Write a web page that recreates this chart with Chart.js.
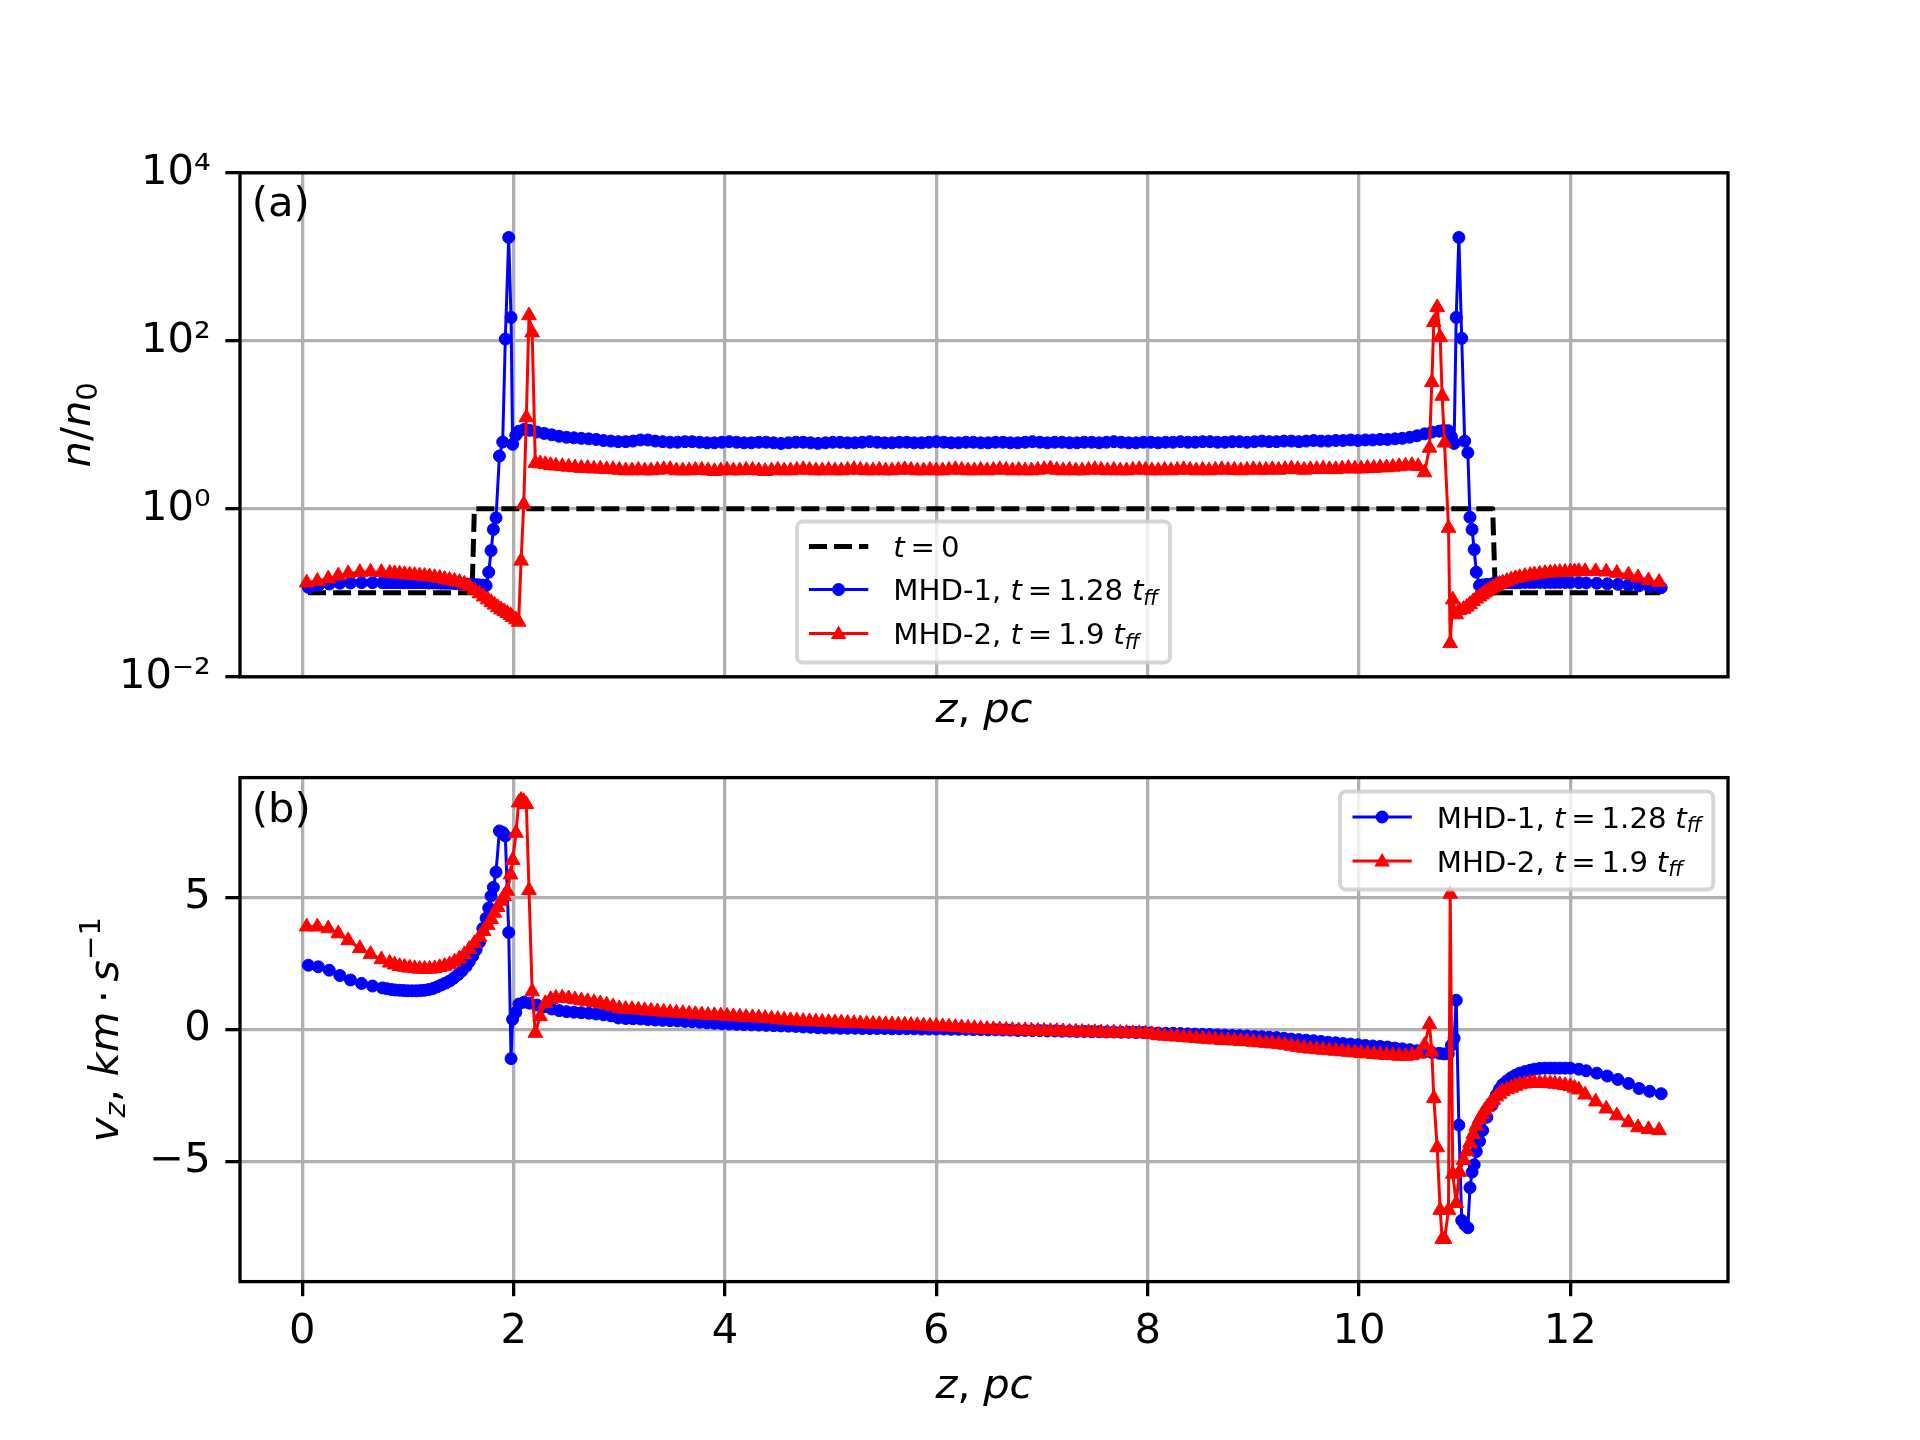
<!DOCTYPE html>
<html><head><meta charset="utf-8">
<script src="https://cdn.jsdelivr.net/npm/chart.js@4.4.1/dist/chart.umd.min.js"></script>
<style>
html,body{margin:0;padding:0;background:#fff;}
#wrap{position:relative;width:1920px;height:1440px;background:#fff;overflow:hidden;}
canvas{position:absolute;left:0;}
#c1{top:0;width:1920px;height:760px;}
#c2{top:700px;width:1920px;height:740px;}
</style></head><body>
<div id="wrap"><canvas id="c1" width="1920" height="760"></canvas><canvas id="c2" width="1920" height="740"></canvas></div>
<script>
// ---------------- DATA ----------------
// initial profile t = 0
const initZ = [0.054, 1.606, 1.628, 11.265, 11.29, 12.85];
const initN = [0.1, 0.1, 1, 1, 0.1, 0.1];

// MHD-1, t = 1.28 t_ff : positions z (pc), density n/n0, velocity vz (km/s)
const mhd1Z = [
0.057,0.151,0.255,0.355,0.456,0.56,0.664,0.758,0.80,0.843,
0.88,0.921,0.96,1.0,1.04,1.08,1.12,1.157,1.196,1.236,
1.275,1.314,1.354,1.393,1.432,1.472,1.51,1.55,1.58,1.613,
1.645,1.676,1.708,
1.739,1.764,1.786,1.808,1.833,1.865,1.896,1.921,1.953,1.975,1.99,2.02,2.05,2.10,
2.15,2.22,2.29,2.36,2.43,2.50,2.57,2.64,2.71,2.78,
2.85,2.92,2.99,3.06,3.13,3.20,3.27,3.34,3.41,3.48,
3.55,3.62,3.69,3.76,3.83,3.90,3.97,4.04,4.11,4.18,
4.25,4.32,4.39,4.46,4.53,4.60,4.67,4.74,4.81,4.88,
4.95,5.02,5.09,5.16,5.23,5.30,5.37,5.44,5.51,5.58,
5.65,5.72,5.79,5.86,5.93,6.00,6.07,6.14,6.21,6.28,
6.35,6.42,6.49,6.56,6.63,6.70,6.77,6.84,6.91,6.98,
7.05,7.12,7.19,7.26,7.33,7.40,7.47,7.54,7.61,7.68,
7.75,7.82,7.89,7.96,8.03,8.10,8.17,8.24,8.31,8.38,
8.45,8.52,8.59,8.66,8.73,8.80,8.87,8.94,9.01,9.08,
9.15,9.22,9.29,9.36,9.43,9.50,9.57,9.64,9.71,9.78,
9.85,9.92,9.99,10.06,10.13,10.20,10.27,10.34,10.41,10.48,
10.55,10.62,10.69,
10.76,10.80,10.845,10.875,10.90,10.92,10.945,10.972,11.00,11.03,11.05,11.07,11.09,11.11,11.14,
11.17,11.21,11.26,11.30,11.33,11.36,11.40,11.44,11.48,11.52,
11.57,11.62,11.66,11.71,11.76,11.81,11.855,11.90,11.95,12.0,
12.08,12.15,12.25,12.35,12.45,12.55,12.65,12.75,12.86
];
const mhd1N = [
0.116,0.122,0.127,0.130,0.131,0.132,0.132,0.132,0.132,0.132,
0.132,0.132,0.132,0.132,0.132,0.132,0.132,0.132,0.131,0.131,
0.131,0.130,0.130,0.130,0.129,0.128,0.128,0.127,0.126,0.126,
0.125,0.124,0.123,
0.122,0.176,0.318,0.567,0.78,4.25,6.24,105,1700,190,5.85,7.5,8.4,8.8,
8.6,8.2,7.9,7.6,7.3,7.1,7.0,6.9,6.8,6.7,
6.5,6.4,6.3,6.3,6.4,6.6,6.6,6.4,6.3,6.2,
6.2,6.3,6.3,6.2,6.1,6.1,6.2,6.3,6.2,6.1,
6.1,6.2,6.2,6.1,6.0,6.1,6.2,6.2,6.1,6.0,
6.1,6.2,6.2,6.1,6.1,6.2,6.3,6.2,6.1,6.1,
6.2,6.2,6.1,6.1,6.2,6.3,6.2,6.1,6.1,6.2,
6.2,6.1,6.1,6.2,6.2,6.1,6.1,6.2,6.3,6.2,
6.1,6.2,6.2,6.1,6.1,6.2,6.2,6.1,6.2,6.3,
6.2,6.1,6.1,6.2,6.2,6.1,6.2,6.2,6.3,6.2,
6.2,6.3,6.3,6.2,6.2,6.3,6.3,6.2,6.3,6.4,
6.3,6.3,6.4,6.4,6.3,6.4,6.5,6.4,6.4,6.5,
6.5,6.6,6.5,6.6,6.6,6.7,6.7,6.8,6.9,7.1,
7.4,7.8,8.2,
8.4,8.6,8.5,7.2,6.0,190,1700,107,6.4,4.66,0.795,0.567,0.327,0.176,0.122,
0.124,0.126,0.128,0.130,0.131,0.131,0.132,0.132,0.132,0.132,
0.133,0.133,0.133,0.133,0.133,0.133,0.133,0.133,0.133,0.133,
0.132,0.131,0.130,0.128,0.126,0.124,0.121,0.118,0.115
];
const mhd1V = [
2.44,2.38,2.25,2.05,1.88,1.75,1.65,1.58,1.55,1.52,
1.50,1.49,1.48,1.47,1.47,1.47,1.48,1.49,1.52,1.56,
1.62,1.69,1.76,1.84,1.95,2.08,2.22,2.40,2.58,2.79,
3.03,3.31,3.83,
4.22,4.61,5.06,5.39,5.97,7.53,7.47,7.34,3.68,-1.10,0.39,0.65,0.97,1.04,
1.00,0.93,0.86,0.78,0.72,0.68,0.66,0.64,0.62,0.59,
0.56,0.52,0.44,0.42,0.41,0.40,0.38,0.36,0.35,0.34,
0.33,0.31,0.30,0.28,0.26,0.24,0.22,0.21,0.20,0.19,
0.18,0.17,0.16,0.15,0.14,0.13,0.12,0.10,0.09,0.07,
0.06,0.06,0.05,0.05,0.05,0.04,0.04,0.04,0.04,0.03,
0.03,0.03,0.03,0.02,0.02,0.02,0.02,0.01,0.01,0.01,
0.00,0.00,-0.01,-0.01,-0.02,-0.02,-0.03,-0.03,-0.04,-0.04,
-0.05,-0.05,-0.06,-0.06,-0.07,-0.07,-0.08,-0.08,-0.09,-0.09,
-0.10,-0.10,-0.11,-0.11,-0.12,-0.13,-0.14,-0.14,-0.15,-0.16,
-0.17,-0.18,-0.19,-0.20,-0.21,-0.22,-0.23,-0.24,-0.26,-0.27,
-0.29,-0.30,-0.33,-0.36,-0.38,-0.40,-0.42,-0.45,-0.48,-0.50,
-0.53,-0.55,-0.57,-0.60,-0.62,-0.64,-0.66,-0.70,-0.73,-0.76,
-0.80,-0.84,-0.87,
-0.90,-0.92,-0.92,-0.59,-0.33,1.11,-3.62,-7.23,-7.40,-7.51,-5.99,-5.40,-5.12,-4.62,-4.23,
-3.82,-3.32,-2.86,-2.47,-2.25,-2.08,-1.94,-1.82,-1.73,-1.65,
-1.59,-1.54,-1.50,-1.47,-1.46,-1.46,-1.46,-1.46,-1.46,-1.46,
-1.50,-1.56,-1.65,-1.76,-1.89,-2.04,-2.23,-2.34,-2.43
];

// MHD-2, t = 1.9 t_ff
const mhd2Z = [
0.041,0.142,0.245,0.34,0.434,0.544,0.645,0.748,0.827,0.874,
0.921,0.968,1.016,1.063,1.11,1.157,1.204,1.252,1.30,1.347,
1.393,1.44,1.487,1.533,1.58,1.628,1.676,1.715,1.755,1.787,
1.818,1.85,1.88,1.91,1.94,1.97,1.99,2.022,2.047,
2.07,2.095,2.12,2.145,2.175,2.205,2.25,2.30,2.35,
2.40,2.46,2.52,2.58,2.64,2.70,2.76,2.82,2.88,2.94,
3.00,3.06,3.12,3.18,3.24,3.30,3.36,3.42,3.48,3.54,
3.60,3.66,3.72,3.78,3.84,3.90,3.96,4.02,4.08,4.14,
4.20,4.26,4.32,4.38,4.44,4.50,4.56,4.62,4.68,4.74,
4.80,4.86,4.92,4.98,5.04,5.10,5.16,5.22,5.28,5.34,
5.40,5.46,5.52,5.58,5.64,5.70,5.76,5.82,5.88,5.94,
6.00,6.06,6.12,6.18,6.24,6.30,6.36,6.42,6.48,6.54,
6.60,6.66,6.72,6.78,6.84,6.90,6.96,7.02,7.08,7.14,
7.20,7.26,7.32,7.38,7.44,7.50,7.56,7.62,7.68,7.74,
7.80,7.86,7.92,7.98,8.04,8.10,8.16,8.22,8.28,8.34,
8.40,8.46,8.52,8.58,8.64,8.70,8.76,8.82,8.88,8.94,
9.00,9.06,9.12,9.18,9.24,9.30,9.36,9.42,9.48,9.54,
9.60,9.66,9.72,9.78,9.84,9.90,9.96,10.02,10.08,10.14,
10.20,10.26,10.32,10.38,10.44,10.50,10.56,
10.62,10.667,10.689,10.708,10.74,10.768,10.787,10.809,10.847,10.863,10.887,10.92,10.95,
10.99,11.02,11.05,11.08,11.11,11.14,11.165,11.19,11.215,11.24,
11.27,11.30,11.33,11.36,11.40,11.44,11.48,11.52,11.57,11.62,
11.66,11.71,11.76,11.81,11.855,11.90,11.95,12.0,12.04,12.08,
12.14,12.24,12.34,12.44,12.55,12.64,12.74,12.84
];
const mhd2N = [
0.132,0.138,0.147,0.16,0.17,0.176,0.178,0.176,0.172,0.17,
0.168,0.166,0.164,0.162,0.16,0.158,0.156,0.153,0.15,0.146,
0.142,0.138,0.134,0.128,0.12,0.108,0.098,0.09,0.083,0.077,
0.072,0.067,0.063,0.06,0.057,0.054,0.051,0.048,0.045,
0.24,1.13,12.2,200,125,3.5,3.45,3.4,3.3,
3.25,3.2,3.15,3.1,3.05,3.05,3.0,3.0,2.95,2.95,
2.9,2.85,2.85,2.9,2.85,2.85,2.9,2.95,2.95,2.85,
2.85,2.85,2.9,2.9,2.85,2.8,2.85,2.9,2.85,2.85,
2.9,2.9,2.85,2.8,2.85,2.9,2.85,2.85,2.9,2.95,
2.9,2.85,2.85,2.9,2.85,2.85,2.9,2.95,2.9,2.85,
2.85,2.9,2.85,2.85,2.9,2.95,2.9,2.85,2.85,2.9,
2.85,2.85,2.9,2.95,2.9,2.85,2.85,2.9,2.85,2.9,
2.95,2.9,2.85,2.9,2.85,2.85,2.9,2.95,3.0,2.9,
2.85,2.9,2.85,2.85,2.9,2.95,2.9,2.85,2.9,2.85,
2.85,2.9,2.95,2.9,2.85,2.85,2.9,2.85,2.9,2.95,
2.9,2.85,2.9,2.85,2.9,2.95,2.9,2.9,2.85,2.9,
2.95,2.9,2.9,2.95,2.9,2.95,3.0,2.95,2.9,2.95,
2.95,3.0,2.95,2.95,3.0,3.05,3.0,3.0,3.05,3.05,
3.1,3.1,3.15,3.2,3.25,3.3,3.2,
2.7,5.3,32,166,250,110,22,6.1,0.59,0.025,0.083,0.055,0.062,
0.064,0.068,0.073,0.079,0.085,0.09,0.095,0.10,0.105,0.11,
0.116,0.122,0.127,0.132,0.138,0.144,0.149,0.153,0.158,0.162,
0.165,0.168,0.171,0.173,0.175,0.176,0.177,0.178,0.179,0.18,
0.18,0.18,0.178,0.172,0.164,0.152,0.14,0.134
];
const mhd2V = [
3.90,3.90,3.83,3.64,3.38,3.08,2.86,2.66,2.53,2.46,
2.40,2.37,2.34,2.32,2.30,2.30,2.30,2.32,2.36,2.41,
2.47,2.57,2.69,2.85,3.05,3.27,3.51,3.73,3.96,4.18,
4.42,4.64,4.87,5.05,5.25,5.87,6.42,7.45,8.60,
8.70,8.65,8.54,5.28,1.44,-0.13,0.50,1.00,1.15,
1.20,1.21,1.18,1.14,1.10,1.07,1.03,0.99,0.94,0.88,
0.80,0.78,0.77,0.75,0.73,0.71,0.69,0.67,0.65,0.64,
0.62,0.60,0.58,0.57,0.55,0.54,0.53,0.52,0.50,0.49,
0.47,0.46,0.45,0.43,0.41,0.39,0.37,0.35,0.34,0.32,
0.31,0.30,0.29,0.28,0.27,0.26,0.25,0.24,0.23,0.22,
0.21,0.20,0.20,0.19,0.18,0.18,0.17,0.16,0.15,0.14,
0.13,0.12,0.11,0.09,0.08,0.06,0.05,0.03,0.02,0.01,
0.00,-0.01,-0.02,-0.03,-0.03,-0.04,-0.05,-0.05,-0.06,-0.06,
-0.07,-0.08,-0.08,-0.09,-0.10,-0.10,-0.11,-0.12,-0.12,-0.13,
-0.13,-0.14,-0.14,-0.15,-0.18,-0.22,-0.24,-0.26,-0.27,-0.29,
-0.31,-0.33,-0.35,-0.37,-0.38,-0.40,-0.41,-0.42,-0.44,-0.45,
-0.47,-0.49,-0.51,-0.53,-0.55,-0.58,-0.62,-0.66,-0.70,-0.73,
-0.75,-0.77,-0.79,-0.81,-0.83,-0.85,-0.87,-0.89,-0.91,-0.93,
-0.95,-0.97,-0.98,-1.00,-1.00,-0.98,-0.92,
-0.59,0.20,-0.85,-2.60,-4.47,-6.84,-7.94,-7.94,-6.84,5.14,-5.47,-6.58,-5.40,
-4.95,-4.62,-4.30,-3.97,-3.65,-3.39,-3.22,-3.06,-2.93,-2.80,
-2.67,-2.54,-2.44,-2.34,-2.27,-2.21,-2.14,-2.08,-2.05,-2.02,
-2.02,-2.02,-2.03,-2.04,-2.06,-2.08,-2.11,-2.15,-2.21,-2.28,
-2.47,-2.73,-3.00,-3.26,-3.52,-3.71,-3.78,-3.82
];

// ticks
const zTicks = [0, 2, 4, 6, 8, 10, 12];
const zTickLabels = ['0', '2', '4', '6', '8', '10', '12'];
const nTicks = [0.01, 1, 100, 10000];
const nTickLabels = ['10\u207B\u00B2', '10\u2070', '10\u00B2', '10\u2074'];
const vTicks = [-5, 0, 5];
const vTickLabels = ['\u22125', '0', '5'];
const zRange = [-0.59, 13.492];
const nRange = [0.01, 10000];
const vRange = [-9.55, 9.55];

// ---------------- HELPERS ----------------
const FAM = 'DejaVu Sans';
const FS = 41.7;   // 10pt @300dpi
const LFS = 29.2;  // 7pt @300dpi
function fnt(size, it) { return (it ? 'italic ' : '') + size + 'px "' + FAM + '"'; }
function runsWidth(ctx, runs, size) {
  let w = 0;
  for (const r of runs) {
    if (r.gap !== undefined) { w += r.gap * size; continue; }
    const s = (r.sub || r.sup) ? size * 0.7 : size;
    ctx.font = fnt(s, r.it); w += ctx.measureText(r.t).width;
  }
  return w;
}
function drawRuns(ctx, runs, x, y, size, align) {
  const total = runsWidth(ctx, runs, size);
  let cx = align === 'center' ? x - total / 2 : x;
  ctx.textBaseline = 'alphabetic'; ctx.textAlign = 'left'; ctx.fillStyle = '#000';
  for (const r of runs) {
    if (r.gap !== undefined) { cx += r.gap * size; continue; }
    const s = (r.sub || r.sup) ? size * 0.7 : size;
    ctx.font = fnt(s, r.it);
    const dy = r.sub ? 0.16 * size : (r.sup ? -0.42 * size : 0);
    ctx.fillText(r.t, cx, y + dy);
    cx += ctx.measureText(r.t).width;
  }
}
function drawRotRuns(ctx, runs, x, y, size) {
  ctx.save(); ctx.translate(x, y); ctx.rotate(-Math.PI / 2);
  drawRuns(ctx, runs, 0, 0, size, 'center'); ctx.restore();
}
function pts(xs, ys) {
  const n = Math.min(xs.length, ys.length);
  const out = [];
  for (let i = 0; i < n; i++) out.push({ x: xs[i], y: ys[i] });
  return out;
}
function tri(ctx, x, y, r) {
  ctx.beginPath();
  let a = 0;
  ctx.moveTo(x + Math.sin(a) * r, y - Math.cos(a) * r); a += 2 * Math.PI / 3;
  ctx.lineTo(x + Math.sin(a) * r, y - Math.cos(a) * r); a += 2 * Math.PI / 3;
  ctx.lineTo(x + Math.sin(a) * r, y - Math.cos(a) * r);
  ctx.closePath(); ctx.fill();
}
function roundRect(ctx, x, y, w, h, r) {
  ctx.beginPath();
  ctx.moveTo(x + r, y); ctx.lineTo(x + w - r, y); ctx.arcTo(x + w, y, x + w, y + r, r);
  ctx.lineTo(x + w, y + h - r); ctx.arcTo(x + w, y + h, x + w - r, y + h, r);
  ctx.lineTo(x + r, y + h); ctx.arcTo(x, y + h, x, y + h - r, r);
  ctx.lineTo(x, y + r); ctx.arcTo(x, y, x + r, y, r); ctx.closePath();
}

const labT0 = [{ t: 't', it: 1 }, { gap: 0.2 }, { t: '=' }, { gap: 0.2 }, { t: '0' }];
const labM1 = [{ t: 'MHD-1, ' }, { t: 't', it: 1 }, { gap: 0.2 }, { t: '=' }, { gap: 0.2 }, { t: '1.28' }, { gap: 0.3 }, { t: 't', it: 1 }, { t: 'ff', it: 1, sub: 1 }];
const labM2 = [{ t: 'MHD-2, ' }, { t: 't', it: 1 }, { gap: 0.2 }, { t: '=' }, { gap: 0.2 }, { t: '1.9' }, { gap: 0.3 }, { t: 't', it: 1 }, { t: 'ff', it: 1, sub: 1 }];
const labZ = [{ t: 'z', it: 1 }, { t: ',' }, { gap: 0.3 }, { t: 'pc', it: 1 }];
const labN = [{ t: 'n', it: 1 }, { t: '/' }, { t: 'n', it: 1 }, { t: '0', sub: 1 }];
const labV = [{ t: 'v', it: 1 }, { t: 'z', it: 1, sub: 1 }, { t: ',' }, { gap: 0.3 }, { t: 'km', it: 1 }, { gap: 0.2 }, { t: '\u00B7' }, { gap: 0.2 }, { t: 's', it: 1 }, { t: '\u22121', sup: 1 }];

const PR_BLUE = 6, PR_RED = 8.5;

function legendEntry(ctx, kind, hx, y, runs, tx) {
  ctx.save();
  const x0 = hx, x1 = hx + 59.3, xm = hx + 29.6;
  if (kind === 'dash') {
    ctx.strokeStyle = '#000'; ctx.lineWidth = 5; ctx.setLineDash([18, 7]);
    ctx.beginPath(); ctx.moveTo(x0, y); ctx.lineTo(x1, y); ctx.stroke();
  } else {
    const c = kind === 'blue' ? '#0000ff' : '#ff0000';
    ctx.strokeStyle = c; ctx.fillStyle = c; ctx.lineWidth = 3;
    ctx.beginPath(); ctx.moveTo(x0, y); ctx.lineTo(x1, y); ctx.stroke();
    if (kind === 'blue') { ctx.beginPath(); ctx.arc(xm, y, PR_BLUE + 0.5, 0, Math.PI * 2); ctx.fill(); }
    else tri(ctx, xm, y + 1, PR_RED + 0.5);
  }
  ctx.restore();
  drawRuns(ctx, runs, tx, y + 10.5, LFS, 'left');
}
function legendBox(ctx, x, y, w, h) {
  ctx.save();
  roundRect(ctx, x, y, w, h, 6);
  ctx.fillStyle = 'rgba(255,255,255,0.8)'; ctx.fill();
  ctx.strokeStyle = 'rgba(204,204,204,0.8)'; ctx.lineWidth = 4; ctx.stroke();
  ctx.restore();
}

const spinePlugin = {
  id: 'spines',
  afterDatasetsDraw(chart) {
    const { ctx, chartArea: a } = chart;
    ctx.save(); ctx.strokeStyle = '#000'; ctx.lineWidth = 3.3;
    ctx.strokeRect(a.left, a.top, a.right - a.left, a.bottom - a.top);
    ctx.restore();
  }
};

function gridOpts(ticks) {
  return { color: '#b0b0b0', lineWidth: 3.3, drawTicks: ticks, tickLength: 14.6, tickColor: '#000', tickWidth: 3.3 };
}
const tickFont = { family: FAM, size: FS, lineHeight: 1 };

function xScale(showLabels) {
  return {
    type: 'linear', min: zRange[0], max: zRange[1],
    afterBuildTicks: s => { s.ticks = zTicks.map(v => ({ value: v })); },
    ticks: { display: showLabels, font: tickFont, color: '#000', padding: 15, maxRotation: 0, autoSkip: false,
      callback: (v, i) => zTickLabels[i] },
    grid: gridOpts(showLabels),
    border: { display: false },
  };
}
function redSet(data) {
  return { label: 'MHD-2', data, order: 0, borderColor: '#ff0000', backgroundColor: '#ff0000',
    borderWidth: 3, pointStyle: 'triangle', pointRadius: PR_RED, pointBorderWidth: 1,
    pointBackgroundColor: '#ff0000', pointBorderColor: '#ff0000', borderJoinStyle: 'round' };
}
function blueSet(data) {
  return { label: 'MHD-1', data, order: 1, borderColor: '#0000ff', backgroundColor: '#0000ff',
    borderWidth: 3, pointStyle: 'circle', pointRadius: PR_BLUE, pointBorderWidth: 1,
    pointBackgroundColor: '#0000ff', pointBorderColor: '#0000ff', borderJoinStyle: 'round' };
}

// ---------------- TOP PANEL ----------------
const chartTop = new Chart(document.getElementById('c1'), {
  type: 'line',
  data: {
    datasets: [
      redSet(pts(mhd2Z, mhd2N)),
      blueSet(pts(mhd1Z, mhd1N)),
      { label: 't=0', data: pts(initZ, initN), order: 2, borderColor: '#000', borderWidth: 5, borderDash: [18, 7], pointRadius: 0, borderJoinStyle: 'round' },
    ]
  },
  options: {
    responsive: false, animation: false, devicePixelRatio: 1,
    layout: { padding: { top: 172.8, left: 0, right: 192, bottom: 0 } },
    plugins: { legend: { display: false }, tooltip: { enabled: false } },
    elements: { line: { tension: 0 } },
    scales: {
      x: Object.assign(xScale(false), { afterFit: s => { s.height = 83.2; } }),
      y: {
        type: 'logarithmic', min: nRange[0], max: nRange[1],
        afterBuildTicks: s => { s.ticks = nTicks.map(v => ({ value: v, major: true })); },
        afterFit: s => { s.width = 240; },
        ticks: { font: tickFont, color: '#000', padding: 14.6, autoSkip: false, callback: (v, i) => nTickLabels[i] },
        grid: gridOpts(true), border: { display: false },
      }
    }
  },
  plugins: [spinePlugin, {
    id: 'deco1',
    afterDraw(chart) {
      const ctx = chart.ctx;
      ctx.save();
      ctx.font = fnt(FS, false); ctx.fillStyle = '#000'; ctx.textBaseline = 'alphabetic'; ctx.textAlign = 'left';
      ctx.fillText('(a)', 251.7, 216.3);
      drawRuns(ctx, labZ, 984, 722, FS, 'center');
      drawRotRuns(ctx, labN, 90, 424.8, FS);
      legendBox(ctx, 797, 521.5, 373, 141);
      legendEntry(ctx, 'dash', 809, 546.5, labT0, 893.3);
      legendEntry(ctx, 'blue', 809, 589.5, labM1, 893.3);
      legendEntry(ctx, 'red', 809, 633.5, labM2, 893.3);
      ctx.restore();
    }
  }]
});

// ---------------- BOTTOM PANEL ----------------
const chartBottom = new Chart(document.getElementById('c2'), {
  type: 'line',
  data: {
    datasets: [
      redSet(pts(mhd2Z, mhd2V)),
      blueSet(pts(mhd1Z, mhd1V)),
    ]
  },
  options: {
    responsive: false, animation: false, devicePixelRatio: 1,
    layout: { padding: { top: 77.6, left: 0, right: 192, bottom: 0 } },
    plugins: { legend: { display: false }, tooltip: { enabled: false } },
    elements: { line: { tension: 0 } },
    scales: {
      x: Object.assign(xScale(true), { afterFit: s => { s.height = 158.4; } }),
      y: {
        type: 'linear', min: vRange[0], max: vRange[1],
        afterBuildTicks: s => { s.ticks = vTicks.map(v => ({ value: v })); },
        afterFit: s => { s.width = 240; },
        ticks: { font: tickFont, color: '#000', padding: 14.6, autoSkip: false, callback: (v, i) => vTickLabels[i] },
        grid: gridOpts(true), border: { display: false },
      }
    }
  },
  plugins: [spinePlugin, {
    id: 'deco2',
    afterDraw(chart) {
      const ctx = chart.ctx;
      ctx.save();
      ctx.font = fnt(FS, false); ctx.fillStyle = '#000'; ctx.textBaseline = 'alphabetic'; ctx.textAlign = 'left';
      ctx.fillText('(b)', 251.7, 121.7);
      drawRuns(ctx, labZ, 984, 698, FS, 'center');
      drawRotRuns(ctx, labV, 118, 329.6, FS);
      legendBox(ctx, 1340, 91.5, 373.3, 98);
      legendEntry(ctx, 'blue', 1352.5, 117, labM1, 1436.7);
      legendEntry(ctx, 'red', 1352.5, 161, labM2, 1436.7);
      ctx.restore();
    }
  }]
});
</script>
</body></html>
